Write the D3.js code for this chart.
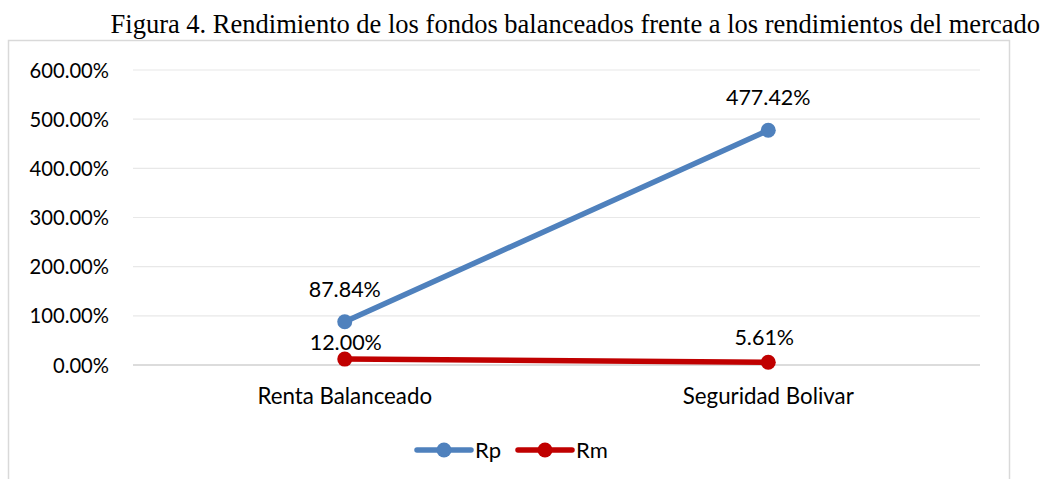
<!DOCTYPE html>
<html><head><meta charset="utf-8">
<script src="https://cdn.jsdelivr.net/npm/d3@7"></script>
<style>body{margin:0;background:#fff}svg{display:block}</style>
</head><body><svg id="c" width="1046" height="479"></svg>
<script>
const categories = ["Renta Balanceado", "Seguridad Bolivar"];
const rpValues = [87.84, 477.42];
const rmValues = [12.00, 5.61];
const yTicks = [0, 100, 200, 300, 400, 500, 600];
const seriesNames = ["Rp", "Rm"];
const colors = ["#4F81BD", "#C00000"];

// layout: label baseline offsets above points, and x nudges (as placed in the original)
const labelOffsets = [[25, 25], [9, 17]];
const labelNudgeX = [[0, 0], [1, -4]];

const svg = d3.select("#c");
const font = "Lato, 'Open Sans', sans-serif";
const fs = 21.5;
svg.append("rect").attr("x",8.5).attr("y",40.5).attr("width",1001).attr("height",450)
  .attr("fill","#fff").attr("stroke","#D9D9D9").attr("stroke-width",1.5);
svg.append("text").attr("x",1040).attr("y",32.5).attr("text-anchor","end")
  .attr("font-family","'Liberation Serif','Times New Roman',serif").attr("font-size",26.5)
  .attr("fill","#000").text("Figura 4. Rendimiento de los fondos balanceados frente a los rendimientos del mercado");

const x = d3.scaleBand().domain(categories).range([133,980]);
const y = d3.scaleLinear().domain([0,600]).range([365,70]);

const g = svg.append("g");
g.selectAll("line.grid").data(yTicks).join("line")
  .attr("x1",133).attr("x2",980).attr("y1",d=>y(d)).attr("y2",d=>y(d))
  .attr("stroke",d=>d===0?"#D0D0D0":"#E8E8E8").attr("stroke-width",d=>d===0?1.5:1.2);

const yAxis = d3.axisLeft(y).tickValues(yTicks).tickSize(0).tickPadding(0).tickFormat(d=>d.toFixed(2)+"%");
const ya = svg.append("g").attr("transform","translate(109,0)").call(yAxis);
ya.select(".domain").remove();
ya.selectAll("text").attr("font-family",font).attr("font-size",20.2).attr("fill","#000").attr("dy","0.35em");

const xAxis = d3.axisBottom(x).tickSize(0).tickPadding(0);
const xa = svg.append("g").attr("transform","translate(0,388)").call(xAxis);
xa.select(".domain").remove();
xa.selectAll("text").attr("font-family",font).attr("font-size",22.3).attr("fill","#000").attr("dy","0.7em");

const series = [rpValues, rmValues];
const cx = c => x(c) + x.bandwidth()/2;
const line = d3.line().x((d,i)=>cx(categories[i])).y(d=>y(d));
series.forEach((vals,si)=>{
  svg.append("path").datum(vals).attr("d",line).attr("fill","none")
    .attr("stroke",colors[si]).attr("stroke-width",5.5).attr("stroke-linecap","round");
  svg.selectAll(null).data(vals).join("circle")
    .attr("cx",(d,i)=>cx(categories[i])).attr("cy",d=>y(d)).attr("r",7.5).attr("fill",colors[si]);
});
series.forEach((vals,si)=>{
  svg.selectAll(null).data(vals).join("text")
    .attr("x",(d,i)=>cx(categories[i]) + labelNudgeX[si][i]).attr("y",(d,i)=>y(d)-labelOffsets[si][i])
    .attr("text-anchor","middle").attr("font-family",font).attr("font-size",fs).attr("fill","#000")
    .text(d=>d.toFixed(2)+"%");
});

const legendX = [417, 518];
seriesNames.forEach((n,i)=>{
  const lg = svg.append("g").attr("transform",`translate(${legendX[i]},450)`);
  lg.append("line").attr("x1",0).attr("x2",54).attr("y1",0).attr("y2",0)
    .attr("stroke",colors[i]).attr("stroke-width",5.5).attr("stroke-linecap","round");
  lg.append("circle").attr("cx",27).attr("cy",0).attr("r",7.5).attr("fill",colors[i]);
  lg.append("text").attr("x",58).attr("y",0).attr("dy","0.35em").attr("font-family",font)
    .attr("font-size",22).attr("fill","#000").text(n);
});
</script></body></html>
